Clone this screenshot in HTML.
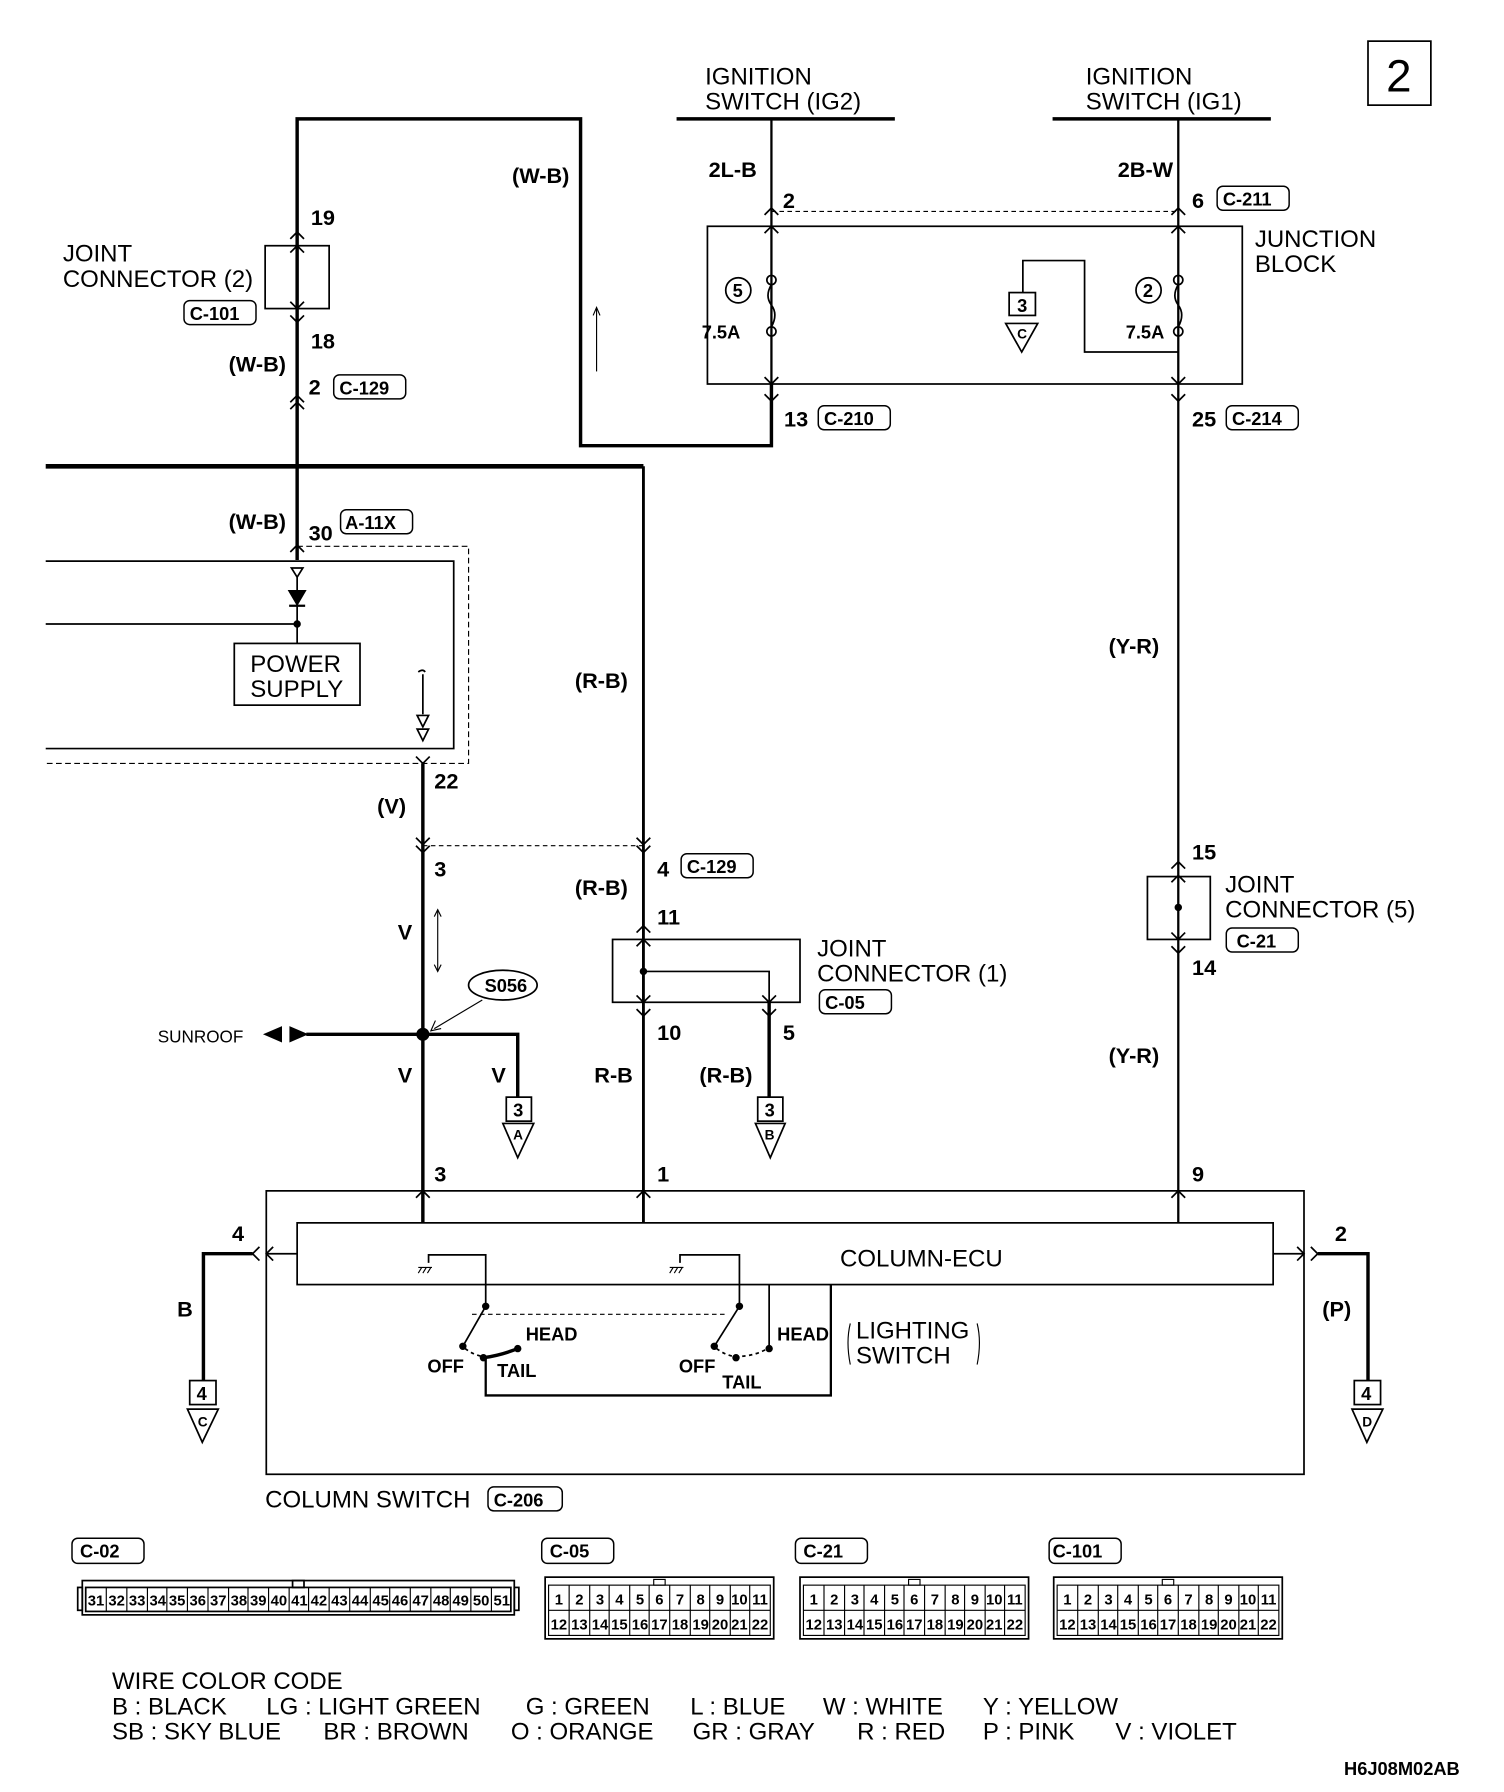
<!DOCTYPE html>
<html><head><meta charset="utf-8"><style>
html,body{margin:0;padding:0;background:#fff}
svg{display:block}
text{font-family:"Liberation Sans",sans-serif;fill:#000}
.l{font-size:21px}
.b{font-size:19px;font-weight:bold}
.c{font-size:13px;font-weight:bold;text-anchor:middle}
.s{font-size:16px;font-weight:bold}
</style></head><body>
<svg width="1504" height="1792" viewBox="0 0 1316 1568" preserveAspectRatio="none" xmlns="http://www.w3.org/2000/svg">
<g fill="none" stroke="#000" stroke-width="1.5">
<rect x="1197" y="36" width="55" height="56"/>
<line x1="592" y1="104" x2="783" y2="104" stroke-width="3"/>
<line x1="921" y1="104" x2="1112" y2="104" stroke-width="3"/>
<line x1="675" y1="104" x2="675" y2="390" stroke-width="2"/>
<line x1="1031" y1="104" x2="1031" y2="1070" stroke-width="2"/>
<line x1="675" y1="185" x2="1031" y2="185" stroke-dasharray="4,3" stroke-width="1"/>
<rect x="619" y="198" width="468" height="138"/>
<circle cx="675" cy="245" r="4"/><circle cx="675" cy="290" r="4"/>
<path d="M675 249 q-6 10 0 18 q6 8 0 19"/>
<circle cx="1031" cy="245" r="4"/><circle cx="1031" cy="290" r="4"/>
<path d="M1031 249 q-6 10 0 18 q6 8 0 19"/>
<circle cx="646" cy="254" r="11"/><circle cx="1005" cy="254" r="11"/>
<polyline points="895,256 895,228 949,228 949,308 1031,308"/>
<rect x="883" y="256" width="23" height="20"/>
<polygon points="880,283 908,283 894,308"/>
<path d="M669 188 l6 -6 l6 6 M669 204 l6 -6 l6 6 M1025 188 l6 -6 l6 6 M1025 204 l6 -6 l6 6 M669 330 l6 6 l6 -6 M669 345 l6 6 l6 -6 M1025 330 l6 6 l6 -6 M1025 345 l6 6 l6 -6"/>
<polyline points="675,336 675,390 508,390 508,104 260,104 260,490" stroke-width="3"/>
<line x1="522" y1="325" x2="522" y2="270" stroke-width="1"/><path d="M519 276 l3 -7 l3 7" stroke-width="1"/>
<rect x="232" y="215" width="56" height="55"/>
<path d="M254 209 l6 -6 l6 6 M254 221 l6 -6 l6 6 M254 264 l6 6 l6 -6 M254 276 l6 6 l6 -6 M254 352 l6 -6 l6 6 M254 358 l6 -6 l6 6"/>
<line x1="40" y1="408" x2="563" y2="408" stroke-width="4"/>
<line x1="563" y1="408" x2="563" y2="1070" stroke-width="2.5"/>
<polyline points="260,478 410,478 410,668 40,668" stroke-dasharray="5,3" stroke-width="1"/>
<polyline points="40,491 397,491 397,655 40,655"/>
<path d="M254 483 l6 -6 l6 6"/>
<polygon points="255,497 265,497 260,505"/>
<line x1="260" y1="505" x2="260" y2="563"/>
<polygon points="253,517 267,517 260,529" fill="#000"/><line x1="253" y1="530" x2="267" y2="530" stroke-width="2"/>
<line x1="40" y1="546" x2="260" y2="546"/><circle cx="260" cy="546" r="2.5" fill="#000"/>
<rect x="205" y="563" width="110" height="54"/>
<path d="M366 588 q4 -3 6 0 M370 590 l0 35"/><polygon points="365,626 375,626 370,636"/><polygon points="365,638 375,638 370,648"/>
<line x1="370" y1="668" x2="370" y2="1070" stroke-width="3"/>
<path d="M364 662 l6 6 l6 -6 M364 733 l6 6 l6 -6 M364 740 l6 6 l6 -6 M557 733 l6 6 l6 -6 M557 740 l6 6 l6 -6"/>
<line x1="370" y1="740" x2="563" y2="740" stroke-dasharray="4,3" stroke-width="1"/>
<line x1="383" y1="796" x2="383" y2="850" stroke-width="1"/><path d="M380 802 l3 -6 l3 6 M380 844 l3 6 l3 -6" stroke-width="1"/>
<rect x="536" y="822" width="164" height="55"/>
<polyline points="563,850 673,850 673,877"/><circle cx="563" cy="850" r="2.5" fill="#000"/>
<path d="M557 816 l6 -6 l6 6 M557 828 l6 -6 l6 6 M557 871 l6 6 l6 -6 M557 883 l6 6 l6 -6 M667 871 l6 6 l6 -6 M667 883 l6 6 l6 -6"/>
<line x1="673" y1="877" x2="673" y2="960" stroke-width="3"/>
<rect x="663" y="960" width="22" height="21"/><polygon points="661,983 687,983 674,1013"/>
<ellipse cx="440" cy="862" rx="30" ry="13"/>
<line x1="422" y1="875" x2="380" y2="900" stroke-width="1"/><path d="M381 893 l-4 9 l9 -2" stroke-width="1"/>
<circle cx="370" cy="905" r="5" fill="#000"/>
<polyline points="268,905 453,905 453,960" stroke-width="3"/>
<polygon points="232,905 246,899 246,911" fill="#000"/><polygon points="268,905 254,899 254,911" fill="#000"/>
<rect x="443" y="960" width="22" height="21"/><polygon points="440,983 467,983 453,1013"/>
<rect x="1004" y="767" width="55" height="55"/><circle cx="1031" cy="794" r="2.5" fill="#000"/>
<path d="M1025 760 l6 -6 l6 6 M1025 772 l6 -6 l6 6 M1025 816 l6 6 l6 -6 M1025 828 l6 6 l6 -6"/>
<rect x="233" y="1042" width="908" height="248"/>
<rect x="260" y="1070" width="854" height="54"/>
<path d="M364 1048 l6 -6 l6 6 M557 1048 l6 -6 l6 6 M1025 1048 l6 -6 l6 6"/>
<line x1="233" y1="1097" x2="260" y2="1097"/><line x1="1114" y1="1097" x2="1141" y2="1097"/>
<path d="M239 1091 l-6 6 l6 6 M227 1091 l-6 6 l6 6 M1135 1091 l6 6 l-6 6 M1147 1091 l6 6 l-6 6"/>
<polyline points="221,1097 178,1097 178,1208" stroke-width="3"/>
<polyline points="1153,1097 1197,1097 1197,1208" stroke-width="3"/>
<rect x="166" y="1208" width="23" height="21"/><polygon points="164,1233 191,1233 177,1262"/>
<rect x="1185" y="1208" width="23" height="21"/><polygon points="1183,1233 1210,1233 1196,1262"/>
<polyline points="375,1105 375,1098 425,1098 425,1143"/>
<path d="M366 1114 l3 -5 M370 1114 l3 -5 M374 1114 l3 -5 M366 1109 l12 0" stroke-width="1"/>
<polyline points="595,1105 595,1098 647,1098 647,1143"/>
<path d="M586 1114 l3 -5 M590 1114 l3 -5 M594 1114 l3 -5 M586 1109 l12 0" stroke-width="1"/>
<line x1="425" y1="1143" x2="405" y2="1178"/><line x1="647" y1="1143" x2="625" y2="1178"/>
<circle cx="425" cy="1143" r="2.5" fill="#000"/><circle cx="647" cy="1143" r="2.5" fill="#000"/>
<circle cx="405" cy="1178" r="2.5" fill="#000"/><circle cx="625" cy="1178" r="2.5" fill="#000"/>
<circle cx="423" cy="1188" r="2.5" fill="#000"/><circle cx="453" cy="1180" r="2.5" fill="#000"/>
<circle cx="644" cy="1188" r="2.5" fill="#000"/><circle cx="673" cy="1180" r="2.5" fill="#000"/>
<line x1="413" y1="1150" x2="637" y2="1150" stroke-dasharray="4,3" stroke-width="1"/>
<path d="M407 1180 q8 6 16 7" stroke-dasharray="3,3"/><path d="M423 1188 q15 -2 30 -8" stroke-width="3"/>
<path d="M627 1180 q8 6 16 7 q18 0 30 -8" stroke-dasharray="3,3"/>
<polyline points="673,1124 673,1180"/>
<polyline points="425,1188 425,1221 727,1221 727,1124" stroke-width="2"/>
<path d="M744 1158 q-4 16 0 36 M855 1158 q4 16 0 36" stroke-width="1"/>
<g stroke-width="1.3">
<rect x="1065" y="163" width="63" height="21" rx="5"/>
<rect x="716" y="355" width="63" height="21" rx="5"/>
<rect x="1073" y="355" width="63" height="21" rx="5"/>
<rect x="161" y="263" width="63" height="21" rx="5"/>
<rect x="292" y="328" width="63" height="21" rx="5"/>
<rect x="298" y="446" width="63" height="21" rx="5"/>
<rect x="596" y="747" width="63" height="21" rx="5"/>
<rect x="717" y="866" width="63" height="21" rx="5"/>
<rect x="1073" y="812" width="63" height="21" rx="5"/>
<rect x="427" y="1301" width="65" height="21" rx="5"/>
<rect x="63" y="1346" width="63" height="22" rx="5"/>
<rect x="474" y="1346" width="63" height="22" rx="5"/>
<rect x="696" y="1346" width="63" height="22" rx="5"/>
<rect x="918" y="1346" width="63" height="22" rx="5"/>
</g>
<rect x="72" y="1383" width="378" height="30"/><rect x="75" y="1389" width="372" height="21"/>
<rect x="68" y="1389" width="4" height="20"/><rect x="450" y="1389" width="4" height="20"/>
<rect x="256" y="1383" width="10" height="6"/>
<path d="M93 1389v21M111 1389v21M129 1389v21M146 1389v21M164 1389v21M182 1389v21M200 1389v21M217 1389v21M235 1389v21M253 1389v21M270 1389v21M288 1389v21M306 1389v21M324 1389v21M341 1389v21M359 1389v21M377 1389v21M394 1389v21M412 1389v21M430 1389v21" stroke-width="1"/>
<g id="k" stroke-width="1">
<rect x="477" y="1380" width="200" height="54" stroke-width="1.5"/>
<rect x="480" y="1387" width="194" height="44"/>
<line x1="480" y1="1409" x2="674" y2="1409"/>
<rect x="572" y="1382" width="10" height="5"/>
<path d="M498 1387v44M516 1387v44M533 1387v44M551 1387v44M568 1387v44M586 1387v44M604 1387v44M621 1387v44M639 1387v44M656 1387v44"/>
</g>
<use href="#k" x="223"/><use href="#k" x="445"/>
</g>
<text x="1224" y="80" style="font-size:40px" text-anchor="middle">2</text>
<text class="l" x="617" y="74">IGNITION</text><text class="l" x="617" y="96">SWITCH (IG2)</text>
<text class="l" x="950" y="74">IGNITION</text><text class="l" x="950" y="96">SWITCH (IG1)</text>
<text class="b" x="620" y="155">2L-B</text><text class="b" x="685" y="182">2</text>
<text class="b" x="978" y="155">2B-W</text><text class="b" x="1043" y="182">6</text><text class="s" x="1070" y="180">C-211</text>
<text class="l" x="1098" y="216">JUNCTION</text><text class="l" x="1098" y="238">BLOCK</text>
<text class="s" x="641" y="260">5</text><text class="s" x="1000" y="260">2</text>
<text class="s" x="614" y="296">7.5A</text><text class="s" x="985" y="296">7.5A</text>
<text class="s" x="890" y="273">3</text><text style="font-size:12px;font-weight:bold" x="890" y="296">C</text>
<text class="b" x="686" y="373">13</text><text class="s" x="721" y="372">C-210</text>
<text class="b" x="1043" y="373">25</text><text class="s" x="1078" y="372">C-214</text>
<text class="b" x="448" y="160">(W-B)</text>
<text class="b" x="272" y="197">19</text><text class="b" x="272" y="305">18</text>
<text class="l" x="55" y="229">JOINT</text><text class="l" x="55" y="251">CONNECTOR (2)</text>
<text class="s" x="166" y="280">C-101</text>
<text class="b" x="200" y="325">(W-B)</text><text class="b" x="270" y="345">2</text><text class="s" x="297" y="345">C-129</text>
<text class="b" x="200" y="463">(W-B)</text><text class="b" x="270" y="473">30</text><text class="s" x="302" y="463">A-11X</text>
<text class="l" x="219" y="588">POWER</text><text class="l" x="219" y="610">SUPPLY</text>
<text class="b" x="380" y="690">22</text><text class="b" x="330" y="712">(V)</text>
<text class="b" x="503" y="602">(R-B)</text><text class="b" x="503" y="783">(R-B)</text>
<text class="b" x="380" y="767">3</text><text class="b" x="575" y="767">4</text><text class="s" x="601" y="764">C-129</text>
<text class="b" x="348" y="822">V</text>
<text class="b" x="575" y="809">11</text><text class="b" x="575" y="910">10</text><text class="b" x="685" y="910">5</text>
<text class="l" x="715" y="837">JOINT</text><text class="l" x="715" y="859">CONNECTOR (1)</text><text class="s" x="722" y="883">C-05</text>
<text class="s" x="424" y="868">S056</text>
<text style="font-size:15px" x="138" y="912">SUNROOF</text>
<text class="b" x="348" y="947">V</text><text class="b" x="430" y="947">V</text>
<text class="b" x="520" y="947">R-B</text><text class="b" x="612" y="947">(R-B)</text>
<text class="s" x="449" y="977">3</text><text style="font-size:12px;font-weight:bold" x="449" y="997">A</text>
<text class="s" x="669" y="977">3</text><text style="font-size:12px;font-weight:bold" x="669" y="997">B</text>
<text class="b" x="970" y="572">(Y-R)</text><text class="b" x="970" y="930">(Y-R)</text>
<text class="b" x="1043" y="752">15</text><text class="b" x="1043" y="853">14</text>
<text class="l" x="1072" y="781">JOINT</text><text class="l" x="1072" y="803">CONNECTOR (5)</text><text class="s" x="1082" y="829">C-21</text>
<text class="b" x="380" y="1034">3</text><text class="b" x="575" y="1034">1</text><text class="b" x="1043" y="1034">9</text>
<text class="l" x="735" y="1108">COLUMN-ECU</text>
<text class="b" x="203" y="1086">4</text><text class="b" x="1168" y="1086">2</text>
<text class="b" x="155" y="1152">B</text><text class="b" x="1157" y="1152">(P)</text>
<text class="s" x="172" y="1225">4</text><text style="font-size:12px;font-weight:bold" x="173" y="1248">C</text>
<text class="s" x="1191" y="1225">4</text><text style="font-size:12px;font-weight:bold" x="1192" y="1248">D</text>
<text class="s" x="460" y="1173">HEAD</text><text class="s" x="680" y="1173">HEAD</text>
<text class="s" x="374" y="1201">OFF</text><text class="s" x="435" y="1205">TAIL</text>
<text class="s" x="594" y="1201">OFF</text><text class="s" x="632" y="1215">TAIL</text>
<text class="l" x="749" y="1171">LIGHTING</text><text class="l" x="749" y="1193">SWITCH</text>
<text class="l" x="232" y="1319">COLUMN SWITCH</text><text class="s" x="432" y="1318">C-206</text>
<text class="s" x="70" y="1363">C-02</text><text class="s" x="481" y="1363">C-05</text><text class="s" x="703" y="1363">C-21</text><text class="s" x="921" y="1363">C-101</text>
<g>
<text class="c" x="84" y="1405">31</text><text class="c" x="102" y="1405">32</text><text class="c" x="120" y="1405">33</text><text class="c" x="138" y="1405">34</text><text class="c" x="155" y="1405">35</text><text class="c" x="173" y="1405">36</text><text class="c" x="191" y="1405">37</text><text class="c" x="209" y="1405">38</text><text class="c" x="226" y="1405">39</text><text class="c" x="244" y="1405">40</text><text class="c" x="262" y="1405">41</text><text class="c" x="279" y="1405">42</text><text class="c" x="297" y="1405">43</text><text class="c" x="315" y="1405">44</text><text class="c" x="333" y="1405">45</text><text class="c" x="350" y="1405">46</text><text class="c" x="368" y="1405">47</text><text class="c" x="386" y="1405">48</text><text class="c" x="403" y="1405">49</text><text class="c" x="421" y="1405">50</text><text class="c" x="439" y="1405">51</text>
</g>
<g>
<text class="c" x="489" y="1404">1</text><text class="c" x="507" y="1404">2</text><text class="c" x="525" y="1404">3</text><text class="c" x="542" y="1404">4</text><text class="c" x="560" y="1404">5</text><text class="c" x="577" y="1404">6</text><text class="c" x="595" y="1404">7</text><text class="c" x="613" y="1404">8</text><text class="c" x="630" y="1404">9</text><text class="c" x="647" y="1404">10</text><text class="c" x="665" y="1404">11</text>
<text class="c" x="489" y="1426">12</text><text class="c" x="507" y="1426">13</text><text class="c" x="525" y="1426">14</text><text class="c" x="542" y="1426">15</text><text class="c" x="560" y="1426">16</text><text class="c" x="577" y="1426">17</text><text class="c" x="595" y="1426">18</text><text class="c" x="613" y="1426">19</text><text class="c" x="630" y="1426">20</text><text class="c" x="647" y="1426">21</text><text class="c" x="665" y="1426">22</text>
</g>
<g transform="translate(223,0)">
<text class="c" x="489" y="1404">1</text><text class="c" x="507" y="1404">2</text><text class="c" x="525" y="1404">3</text><text class="c" x="542" y="1404">4</text><text class="c" x="560" y="1404">5</text><text class="c" x="577" y="1404">6</text><text class="c" x="595" y="1404">7</text><text class="c" x="613" y="1404">8</text><text class="c" x="630" y="1404">9</text><text class="c" x="647" y="1404">10</text><text class="c" x="665" y="1404">11</text>
<text class="c" x="489" y="1426">12</text><text class="c" x="507" y="1426">13</text><text class="c" x="525" y="1426">14</text><text class="c" x="542" y="1426">15</text><text class="c" x="560" y="1426">16</text><text class="c" x="577" y="1426">17</text><text class="c" x="595" y="1426">18</text><text class="c" x="613" y="1426">19</text><text class="c" x="630" y="1426">20</text><text class="c" x="647" y="1426">21</text><text class="c" x="665" y="1426">22</text>
</g>
<g transform="translate(445,0)">
<text class="c" x="489" y="1404">1</text><text class="c" x="507" y="1404">2</text><text class="c" x="525" y="1404">3</text><text class="c" x="542" y="1404">4</text><text class="c" x="560" y="1404">5</text><text class="c" x="577" y="1404">6</text><text class="c" x="595" y="1404">7</text><text class="c" x="613" y="1404">8</text><text class="c" x="630" y="1404">9</text><text class="c" x="647" y="1404">10</text><text class="c" x="665" y="1404">11</text>
<text class="c" x="489" y="1426">12</text><text class="c" x="507" y="1426">13</text><text class="c" x="525" y="1426">14</text><text class="c" x="542" y="1426">15</text><text class="c" x="560" y="1426">16</text><text class="c" x="577" y="1426">17</text><text class="c" x="595" y="1426">18</text><text class="c" x="613" y="1426">19</text><text class="c" x="630" y="1426">20</text><text class="c" x="647" y="1426">21</text><text class="c" x="665" y="1426">22</text>
</g>
<text class="l" x="98" y="1478">WIRE COLOR CODE</text>
<text class="l" x="98" y="1500">B : BLACK</text><text class="l" x="233" y="1500">LG : LIGHT GREEN</text><text class="l" x="460" y="1500">G : GREEN</text><text class="l" x="604" y="1500">L : BLUE</text><text class="l" x="720" y="1500">W : WHITE</text><text class="l" x="860" y="1500">Y : YELLOW</text>
<text class="l" x="98" y="1522">SB : SKY BLUE</text><text class="l" x="283" y="1522">BR : BROWN</text><text class="l" x="447" y="1522">O : ORANGE</text><text class="l" x="606" y="1522">GR : GRAY</text><text class="l" x="750" y="1522">R : RED</text><text class="l" x="860" y="1522">P : PINK</text><text class="l" x="976" y="1522">V : VIOLET</text>
<text class="s" x="1176" y="1553">H6J08M02AB</text>
</svg>
</body></html>
